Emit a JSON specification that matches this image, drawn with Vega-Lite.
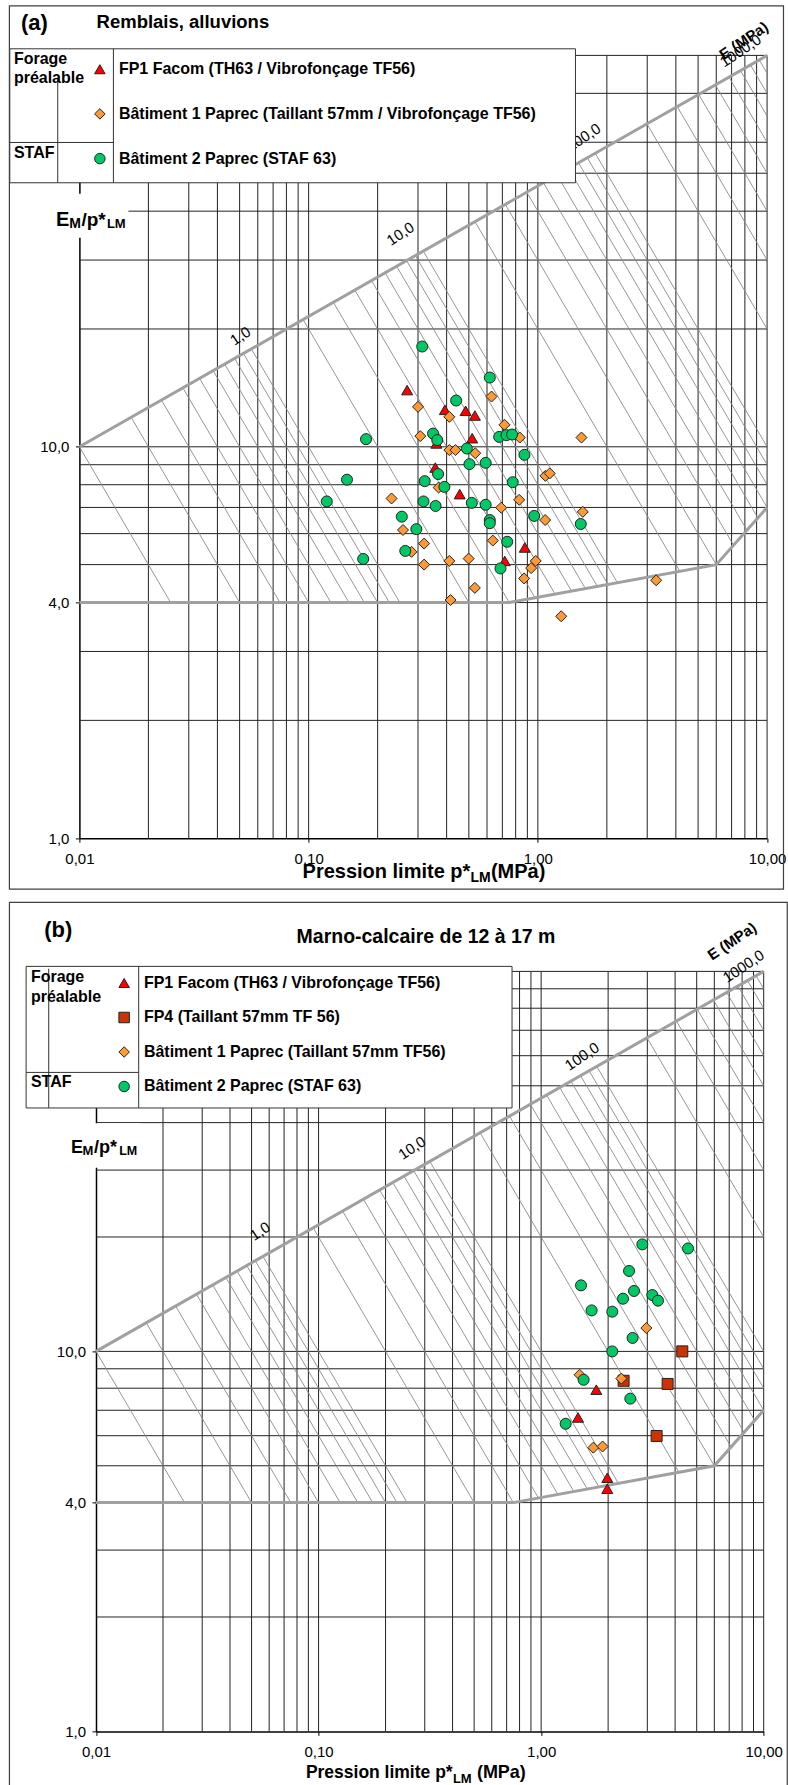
{
"$schema": "https://vega.github.io/schema/vega-lite/v6.json",
"background": "white",
"padding": {"left": 8.4, "top": 4.4, "right": 0, "bottom": 0},
"config": {"view": {"stroke": null}, "font": "Liberation Sans"},
"resolve": {"scale": {"color": "independent", "shape": "independent"}},
"datasets": {
"grilleX": [{"v":0.02},{"v":0.03},{"v":0.04},{"v":0.05},{"v":0.06},{"v":0.07},{"v":0.08},{"v":0.09},{"v":0.1},{"v":0.2},{"v":0.3},{"v":0.4},{"v":0.5},{"v":0.6},{"v":0.7},{"v":0.8},{"v":0.9},{"v":1},{"v":2},{"v":3},{"v":4},{"v":5},{"v":6},{"v":7},{"v":8},{"v":9},{"v":10}],
"grilleYa": [{"h":2},{"h":3},{"h":4},{"h":5},{"h":6},{"h":7},{"h":8},{"h":9},{"h":10},{"h":20},{"h":30},{"h":40},{"h":50},{"h":60},{"h":80},{"h":100}],
"grilleYb": [{"h":2},{"h":3},{"h":4},{"h":5},{"h":6},{"h":7},{"h":8},{"h":9},{"h":10},{"h":20},{"h":30},{"h":40},{"h":50},{"h":60},{"h":70},{"h":80},{"h":90},{"h":100}],
"hachures": [
{"E":0.1,"xa":0.01,"ya":10,"xb":0.025,"yb":4},
{"E":0.2,"xa":0.016818,"ya":11.892,"xb":0.05,"yb":4},
{"E":0.3,"xa":0.022795,"ya":13.161,"xb":0.075,"yb":4},
{"E":0.4,"xa":0.028284,"ya":14.142,"xb":0.1,"yb":4},
{"E":0.5,"xa":0.033437,"ya":14.953,"xb":0.125,"yb":4},
{"E":0.6,"xa":0.038343,"ya":15.649,"xb":0.15,"yb":4},
{"E":0.7,"xa":0.043035,"ya":16.266,"xb":0.175,"yb":4},
{"E":0.8,"xa":0.047568,"ya":16.818,"xb":0.2,"yb":4},
{"E":0.9,"xa":0.051962,"ya":17.321,"xb":0.225,"yb":4},
{"E":1,"xa":0.056234,"ya":17.783,"xb":0.25,"yb":4},
{"E":2,"xa":0.094574,"ya":21.147,"xb":0.5,"yb":4},
{"E":3,"xa":0.12819,"ya":23.403,"xb":0.75,"yb":4},
{"E":4,"xa":0.15905,"ya":25.149,"xb":0.9725,"yb":4.1131},
{"E":5,"xa":0.18803,"ya":26.591,"xb":1.1898,"yb":4.2024},
{"E":6,"xa":0.21561,"ya":27.828,"xb":1.4029,"yb":4.2769},
{"E":7,"xa":0.242,"ya":28.925,"xb":1.6123,"yb":4.3416},
{"E":8,"xa":0.26749,"ya":29.907,"xb":1.8184,"yb":4.3995},
{"E":9,"xa":0.29221,"ya":30.8,"xb":2.0228,"yb":4.4493},
{"E":10,"xa":0.31623,"ya":31.623,"xb":2.2253,"yb":4.4938},
{"E":20,"xa":0.53183,"ya":37.606,"xb":4.1604,"yb":4.8072},
{"E":30,"xa":0.72083,"ya":41.618,"xb":6,"yb":5},
{"E":40,"xa":0.89443,"ya":44.721,"xb":7.1376,"yb":5.6041},
{"E":50,"xa":1.0574,"ya":47.287,"xb":8.1635,"yb":6.1248},
{"E":60,"xa":1.2121,"ya":49.492,"xb":9.1116,"yb":6.585},
{"E":70,"xa":1.3608,"ya":51.438,"xb":10,"yb":7},
{"E":80,"xa":1.5041,"ya":53.183,"xb":10,"yb":8},
{"E":90,"xa":1.6433,"ya":54.772,"xb":10,"yb":9},
{"E":100,"xa":1.7783,"ya":56.234,"xb":10,"yb":10},
{"E":200,"xa":2.9907,"ya":66.874,"xb":10,"yb":20},
{"E":300,"xa":4.0536,"ya":74.008,"xb":10,"yb":30},
{"E":400,"xa":5.0297,"ya":79.527,"xb":10,"yb":40},
{"E":500,"xa":5.946,"ya":84.09,"xb":10,"yb":50},
{"E":600,"xa":6.8173,"ya":88.012,"xb":10,"yb":60},
{"E":700,"xa":7.6541,"ya":91.455,"xb":10,"yb":70},
{"E":800,"xa":8.4589,"ya":94.574,"xb":10,"yb":80},
{"E":900,"xa":9.2402,"ya":97.401,"xb":10,"yb":90}
],
"limites": [
{"seg":"haut","px":0.01,"py":10},{"seg":"haut","px":10,"py":100},
{"seg":"bas","px":0.01,"py":4},{"seg":"bas","px":0.75,"py":4},{"seg":"bas","px":6,"py":5},{"seg":"bas","px":10,"py":7}
],
"a_points": [
{"s":"FP1 Facom (TH63 / Vibrofonçage TF56)","pl":0.269,"ratio":13.96},
{"s":"FP1 Facom (TH63 / Vibrofonçage TF56)","pl":0.393,"ratio":12.43},
{"s":"FP1 Facom (TH63 / Vibrofonçage TF56)","pl":0.484,"ratio":12.36},
{"s":"FP1 Facom (TH63 / Vibrofonçage TF56)","pl":0.531,"ratio":12.02},
{"s":"FP1 Facom (TH63 / Vibrofonçage TF56)","pl":0.517,"ratio":10.52},
{"s":"FP1 Facom (TH63 / Vibrofonçage TF56)","pl":0.361,"ratio":10.2},
{"s":"FP1 Facom (TH63 / Vibrofonçage TF56)","pl":0.357,"ratio":8.85},
{"s":"FP1 Facom (TH63 / Vibrofonçage TF56)","pl":0.456,"ratio":7.57},
{"s":"FP1 Facom (TH63 / Vibrofonçage TF56)","pl":0.877,"ratio":5.53},
{"s":"FP1 Facom (TH63 / Vibrofonçage TF56)","pl":0.717,"ratio":5.11},
{"s":"Bâtiment 1 Paprec (Taillant 57mm / Vibrofonçage TF56)","pl":0.300,"ratio":12.65},
{"s":"Bâtiment 1 Paprec (Taillant 57mm / Vibrofonçage TF56)","pl":0.628,"ratio":13.44},
{"s":"Bâtiment 1 Paprec (Taillant 57mm / Vibrofonçage TF56)","pl":0.411,"ratio":11.93},
{"s":"Bâtiment 1 Paprec (Taillant 57mm / Vibrofonçage TF56)","pl":0.715,"ratio":11.38},
{"s":"Bâtiment 1 Paprec (Taillant 57mm / Vibrofonçage TF56)","pl":0.307,"ratio":10.65},
{"s":"Bâtiment 1 Paprec (Taillant 57mm / Vibrofonçage TF56)","pl":0.834,"ratio":10.56},
{"s":"Bâtiment 1 Paprec (Taillant 57mm / Vibrofonçage TF56)","pl":1.550,"ratio":10.56},
{"s":"Bâtiment 1 Paprec (Taillant 57mm / Vibrofonçage TF56)","pl":0.411,"ratio":9.81},
{"s":"Bâtiment 1 Paprec (Taillant 57mm / Vibrofonçage TF56)","pl":0.437,"ratio":9.81},
{"s":"Bâtiment 1 Paprec (Taillant 57mm / Vibrofonçage TF56)","pl":0.533,"ratio":9.63},
{"s":"Bâtiment 1 Paprec (Taillant 57mm / Vibrofonçage TF56)","pl":1.079,"ratio":8.43},
{"s":"Bâtiment 1 Paprec (Taillant 57mm / Vibrofonçage TF56)","pl":1.127,"ratio":8.55},
{"s":"Bâtiment 1 Paprec (Taillant 57mm / Vibrofonçage TF56)","pl":0.369,"ratio":7.87},
{"s":"Bâtiment 1 Paprec (Taillant 57mm / Vibrofonçage TF56)","pl":0.230,"ratio":7.38},
{"s":"Bâtiment 1 Paprec (Taillant 57mm / Vibrofonçage TF56)","pl":0.829,"ratio":7.32},
{"s":"Bâtiment 1 Paprec (Taillant 57mm / Vibrofonçage TF56)","pl":0.692,"ratio":6.99},
{"s":"Bâtiment 1 Paprec (Taillant 57mm / Vibrofonçage TF56)","pl":1.570,"ratio":6.82},
{"s":"Bâtiment 1 Paprec (Taillant 57mm / Vibrofonçage TF56)","pl":1.076,"ratio":6.50},
{"s":"Bâtiment 1 Paprec (Taillant 57mm / Vibrofonçage TF56)","pl":0.258,"ratio":6.13},
{"s":"Bâtiment 1 Paprec (Taillant 57mm / Vibrofonçage TF56)","pl":0.319,"ratio":5.66},
{"s":"Bâtiment 1 Paprec (Taillant 57mm / Vibrofonçage TF56)","pl":0.636,"ratio":5.76},
{"s":"Bâtiment 1 Paprec (Taillant 57mm / Vibrofonçage TF56)","pl":0.281,"ratio":5.39},
{"s":"Bâtiment 1 Paprec (Taillant 57mm / Vibrofonçage TF56)","pl":0.319,"ratio":5.00},
{"s":"Bâtiment 1 Paprec (Taillant 57mm / Vibrofonçage TF56)","pl":0.411,"ratio":5.11},
{"s":"Bâtiment 1 Paprec (Taillant 57mm / Vibrofonçage TF56)","pl":0.499,"ratio":5.18},
{"s":"Bâtiment 1 Paprec (Taillant 57mm / Vibrofonçage TF56)","pl":0.979,"ratio":5.11},
{"s":"Bâtiment 1 Paprec (Taillant 57mm / Vibrofonçage TF56)","pl":0.935,"ratio":4.90},
{"s":"Bâtiment 1 Paprec (Taillant 57mm / Vibrofonçage TF56)","pl":0.871,"ratio":4.61},
{"s":"Bâtiment 1 Paprec (Taillant 57mm / Vibrofonçage TF56)","pl":0.531,"ratio":4.36},
{"s":"Bâtiment 1 Paprec (Taillant 57mm / Vibrofonçage TF56)","pl":0.416,"ratio":4.06},
{"s":"Bâtiment 1 Paprec (Taillant 57mm / Vibrofonçage TF56)","pl":1.264,"ratio":3.69},
{"s":"Bâtiment 1 Paprec (Taillant 57mm / Vibrofonçage TF56)","pl":3.28,"ratio":4.56},
{"s":"Bâtiment 2 Paprec (STAF 63)","pl":0.313,"ratio":18.04},
{"s":"Bâtiment 2 Paprec (STAF 63)","pl":0.617,"ratio":15.03},
{"s":"Bâtiment 2 Paprec (STAF 63)","pl":0.440,"ratio":13.13},
{"s":"Bâtiment 2 Paprec (STAF 63)","pl":0.349,"ratio":10.81},
{"s":"Bâtiment 2 Paprec (STAF 63)","pl":0.364,"ratio":10.40},
{"s":"Bâtiment 2 Paprec (STAF 63)","pl":0.678,"ratio":10.6},
{"s":"Bâtiment 2 Paprec (STAF 63)","pl":0.730,"ratio":10.71},
{"s":"Bâtiment 2 Paprec (STAF 63)","pl":0.772,"ratio":10.75},
{"s":"Bâtiment 2 Paprec (STAF 63)","pl":0.490,"ratio":9.90},
{"s":"Bâtiment 2 Paprec (STAF 63)","pl":0.874,"ratio":9.54},
{"s":"Bâtiment 2 Paprec (STAF 63)","pl":0.503,"ratio":9.03},
{"s":"Bâtiment 2 Paprec (STAF 63)","pl":0.592,"ratio":9.10},
{"s":"Bâtiment 2 Paprec (STAF 63)","pl":0.367,"ratio":8.52},
{"s":"Bâtiment 2 Paprec (STAF 63)","pl":0.321,"ratio":8.17},
{"s":"Bâtiment 2 Paprec (STAF 63)","pl":0.391,"ratio":7.90},
{"s":"Bâtiment 2 Paprec (STAF 63)","pl":0.777,"ratio":8.12},
{"s":"Bâtiment 2 Paprec (STAF 63)","pl":0.317,"ratio":7.25},
{"s":"Bâtiment 2 Paprec (STAF 63)","pl":0.358,"ratio":7.06},
{"s":"Bâtiment 2 Paprec (STAF 63)","pl":0.515,"ratio":7.19},
{"s":"Bâtiment 2 Paprec (STAF 63)","pl":0.592,"ratio":7.11},
{"s":"Bâtiment 2 Paprec (STAF 63)","pl":0.964,"ratio":6.66},
{"s":"Bâtiment 2 Paprec (STAF 63)","pl":0.255,"ratio":6.63},
{"s":"Bâtiment 2 Paprec (STAF 63)","pl":0.617,"ratio":6.50},
{"s":"Bâtiment 2 Paprec (STAF 63)","pl":0.617,"ratio":6.38},
{"s":"Bâtiment 2 Paprec (STAF 63)","pl":0.295,"ratio":6.16},
{"s":"Bâtiment 2 Paprec (STAF 63)","pl":1.539,"ratio":6.35},
{"s":"Bâtiment 2 Paprec (STAF 63)","pl":0.735,"ratio":5.72},
{"s":"Bâtiment 2 Paprec (STAF 63)","pl":0.264,"ratio":5.42},
{"s":"Bâtiment 2 Paprec (STAF 63)","pl":0.687,"ratio":4.89},
{"s":"Bâtiment 2 Paprec (STAF 63)","pl":0.178,"ratio":10.46},
{"s":"Bâtiment 2 Paprec (STAF 63)","pl":0.147,"ratio":8.24},
{"s":"Bâtiment 2 Paprec (STAF 63)","pl":0.120,"ratio":7.25},
{"s":"Bâtiment 2 Paprec (STAF 63)","pl":0.173,"ratio":5.17}
],
"b_points": [
{"s":"FP1 Facom (TH63 / Vibrofonçage TF56)","pl":1.770,"ratio":7.93},
{"s":"FP1 Facom (TH63 / Vibrofonçage TF56)","pl":1.465,"ratio":6.70},
{"s":"FP1 Facom (TH63 / Vibrofonçage TF56)","pl":1.983,"ratio":4.65},
{"s":"FP1 Facom (TH63 / Vibrofonçage TF56)","pl":1.983,"ratio":4.35},
{"s":"FP4 (Taillant 57mm TF 56)","pl":4.308,"ratio":10.0},
{"s":"FP4 (Taillant 57mm TF 56)","pl":2.347,"ratio":8.37},
{"s":"FP4 (Taillant 57mm TF 56)","pl":3.701,"ratio":8.21},
{"s":"FP4 (Taillant 57mm TF 56)","pl":3.303,"ratio":5.99},
{"s":"Bâtiment 1 Paprec (Taillant 57mm TF56)","pl":2.970,"ratio":11.52},
{"s":"Bâtiment 1 Paprec (Taillant 57mm TF56)","pl":1.489,"ratio":8.68},
{"s":"Bâtiment 1 Paprec (Taillant 57mm TF56)","pl":2.293,"ratio":8.48},
{"s":"Bâtiment 1 Paprec (Taillant 57mm TF56)","pl":1.716,"ratio":5.58},
{"s":"Bâtiment 1 Paprec (Taillant 57mm TF56)","pl":1.889,"ratio":5.62},
{"s":"Bâtiment 2 Paprec (STAF 63)","pl":2.849,"ratio":19.12},
{"s":"Bâtiment 2 Paprec (STAF 63)","pl":4.571,"ratio":18.66},
{"s":"Bâtiment 2 Paprec (STAF 63)","pl":2.483,"ratio":16.28},
{"s":"Bâtiment 2 Paprec (STAF 63)","pl":1.511,"ratio":14.92},
{"s":"Bâtiment 2 Paprec (STAF 63)","pl":2.614,"ratio":14.42},
{"s":"Bâtiment 2 Paprec (STAF 63)","pl":2.333,"ratio":13.76},
{"s":"Bâtiment 2 Paprec (STAF 63)","pl":3.159,"ratio":14.07},
{"s":"Bâtiment 2 Paprec (STAF 63)","pl":3.350,"ratio":13.60},
{"s":"Bâtiment 2 Paprec (STAF 63)","pl":1.686,"ratio":12.82},
{"s":"Bâtiment 2 Paprec (STAF 63)","pl":2.088,"ratio":12.72},
{"s":"Bâtiment 2 Paprec (STAF 63)","pl":2.576,"ratio":10.85},
{"s":"Bâtiment 2 Paprec (STAF 63)","pl":2.088,"ratio":10.0},
{"s":"Bâtiment 2 Paprec (STAF 63)","pl":1.552,"ratio":8.42},
{"s":"Bâtiment 2 Paprec (STAF 63)","pl":2.516,"ratio":7.51},
{"s":"Bâtiment 2 Paprec (STAF 63)","pl":1.289,"ratio":6.45}
]
},
"concat": [
{
"width": 687.7, "height": 782.8,
"resolve": {"axis": {"x": "independent", "y": "independent"}},
"layer": [
{"data": {"values": [{"x0": 0.00495, "x1": 11.79, "y0": 0.7413, "y1": 133.8}]},
 "mark": {"type": "rect", "filled": false, "stroke": "#404040", "strokeWidth": 1.2},
 "encoding": {
  "x": {"field": "x0", "type": "quantitative", "scale": {"type": "log", "domain": [0.01, 10], "nice": false},
   "axis": {"orient": "bottom", "labels": false, "ticks": false, "domain": false, "grid": false, "zindex": 2, "title": "(MPa)", "titleX": 411, "titleY": 39.4, "titleAngle": 0, "titleAlign": "left", "titleBaseline": "alphabetic", "titleFont": "Liberation Sans", "titleFontSize": 20, "titleFontWeight": "bold", "titleColor": "#000"}},
  "x2": {"field": "x1"},
  "y": {"field": "y0", "type": "quantitative", "scale": {"type": "log", "domain": [1, 100], "nice": false},
   "axis": {"orient": "left", "labels": false, "ticks": false, "domain": false, "grid": false, "zindex": 2, "title": "(a)", "titleX": -59, "titleY": -26, "titleAngle": 0, "titleAlign": "left", "titleBaseline": "alphabetic", "titleFont": "Liberation Sans", "titleFontSize": 22, "titleFontWeight": "bold", "titleColor": "#000"}},
  "y2": {"field": "y1"}}},
{"data": {"name": "grilleX"},
 "mark": {"type": "rule", "color": "#222", "strokeWidth": 1},
 "encoding": {
  "x": {"field": "v", "type": "quantitative", "scale": {"type": "log", "domain": [0.01, 10], "nice": false},
   "axis": {"orient": "bottom", "values": [0.01, 0.1, 1, 10], "labelExpr": "replace(format(datum.value, '.2f'), '.', ',')", "labelFont": "Liberation Sans", "labelFontSize": 15, "labelColor": "#000", "labelFlush": false, "labelOverlap": false, "labelPadding": 9, "ticks": true, "tickSize": 4, "tickColor": "#000", "domain": true, "domainColor": "#000", "domainWidth": 1.5, "grid": false, "zindex": 0, "title": "Pression limite p*", "titleX": 222.7, "titleY": 39.4, "titleAngle": 0, "titleAlign": "left", "titleBaseline": "alphabetic", "titleFont": "Liberation Sans", "titleFontSize": 20, "titleFontWeight": "bold", "titleColor": "#000"}}}},
{"data": {"name": "grilleYa"},
 "mark": {"type": "rule", "color": "#222", "strokeWidth": 1},
 "encoding": {
  "y": {"field": "h", "type": "quantitative", "scale": {"type": "log", "domain": [1, 100], "nice": false},
   "axis": {"orient": "left", "values": [1, 4, 10], "labelExpr": "replace(format(datum.value, '.1f'), '.', ',')", "labelFont": "Liberation Sans", "labelFontSize": 15, "labelColor": "#000", "labelFlush": false, "labelOverlap": false, "labelPadding": 6.5, "ticks": true, "tickSize": 4, "tickColor": "#000", "domain": true, "domainColor": "#000", "domainWidth": 1.5, "grid": false, "zindex": 0, "title": null}}}},
{"data": {"values": [{"x0": 0.00747, "x1": 0.01636, "y0": 34.2, "y1": 44.3}]},
 "mark": {"type": "rect", "fill": "white", "strokeWidth": 0},
 "encoding": {
  "x": {"field": "x0", "type": "quantitative", "scale": {"type": "log", "domain": [0.01, 10], "nice": false},
   "axis": {"orient": "bottom", "labels": false, "ticks": false, "domain": false, "grid": false, "zindex": 2, "title": "LM", "titleX": 390.5, "titleY": 43.5, "titleAngle": 0, "titleAlign": "left", "titleBaseline": "alphabetic", "titleFont": "Liberation Sans", "titleFontSize": 14, "titleFontWeight": "bold", "titleColor": "#000"}},
  "x2": {"field": "x1"},
  "y": {"field": "y0", "type": "quantitative", "scale": {"type": "log", "domain": [1, 100], "nice": false},
   "axis": {"orient": "left", "labels": false, "ticks": false, "domain": false, "grid": false, "zindex": 2, "title": "Remblais, alluvions", "titleX": 16.7, "titleY": -27.8, "titleAngle": 0, "titleAlign": "left", "titleBaseline": "alphabetic", "titleFont": "Liberation Sans", "titleFontSize": 18.5, "titleFontWeight": "bold", "titleColor": "#000"}},
  "y2": {"field": "y1"}}},
{"data": {"name": "hachures"},
 "mark": {"type": "rule", "color": "#8a8a8a", "strokeWidth": 0.9},
 "encoding": {
  "x": {"field": "xa", "type": "quantitative", "scale": {"type": "log", "domain": [0.01, 10], "nice": false},
   "axis": {"orient": "bottom", "labels": false, "ticks": false, "domain": false, "grid": false, "zindex": 2, "title": "STAF", "titleX": -66, "titleY": -693.3, "titleAngle": 0, "titleAlign": "left", "titleBaseline": "top", "titleFont": "Liberation Sans", "titleFontSize": 16, "titleFontWeight": "bold", "titleColor": "#000"}},
  "x2": {"field": "xb"},
  "y": {"field": "ya", "type": "quantitative", "scale": {"type": "log", "domain": [1, 100], "nice": false},
   "axis": {"orient": "left", "labels": false, "ticks": false, "domain": false, "grid": false, "zindex": 2, "title": "E", "titleX": -24, "titleY": 170.5, "titleAngle": 0, "titleAlign": "left", "titleBaseline": "alphabetic", "titleFont": "Liberation Sans", "titleFontSize": 20, "titleFontWeight": "bold", "titleColor": "#000"}},
  "y2": {"field": "yb"}}},
{"data": {"name": "limites"},
 "mark": {"type": "line", "color": "#a0a0a0", "strokeWidth": 3},
 "encoding": {
  "x": {"field": "px", "type": "quantitative", "scale": {"type": "log", "domain": [0.01, 10], "nice": false}, "axis": null},
  "y": {"field": "py", "type": "quantitative", "scale": {"type": "log", "domain": [1, 100], "nice": false},
   "axis": {"orient": "left", "labels": false, "ticks": false, "domain": false, "grid": false, "zindex": 2, "title": "M", "titleX": -10.7, "titleY": 172.5, "titleAngle": 0, "titleAlign": "left", "titleBaseline": "alphabetic", "titleFont": "Liberation Sans", "titleFontSize": 14, "titleFontWeight": "bold", "titleColor": "#000"}},
  "detail": {"field": "seg", "type": "nominal"}}},
{"data": {"values": [{"t": "1,0", "px": 0.0504, "py": 19.2}, {"t": "10,0", "px": 0.2514, "py": 35.0}, {"t": "100,0", "px": 1.581, "py": 61.7}, {"t": "1000,0", "px": 7.66, "py": 102.7}]},
 "mark": {"type": "text", "angle": -34, "font": "Liberation Sans", "fontSize": 15, "align": "center", "baseline": "middle", "color": "#000"},
 "encoding": {
  "x": {"field": "px", "type": "quantitative", "scale": {"type": "log", "domain": [0.01, 10], "nice": false}, "axis": null},
  "y": {"field": "py", "type": "quantitative", "scale": {"type": "log", "domain": [1, 100], "nice": false},
   "axis": {"orient": "left", "labels": false, "ticks": false, "domain": false, "grid": false, "zindex": 2, "title": "/p*", "titleX": 1.5, "titleY": 170.5, "titleAngle": 0, "titleAlign": "left", "titleBaseline": "alphabetic", "titleFont": "Liberation Sans", "titleFontSize": 19, "titleFontWeight": "bold", "titleColor": "#000"}},
  "text": {"field": "t", "type": "nominal"}}},
{"data": {"values": [{"t": "E (MPa)", "px": 7.91, "py": 109}]},
 "mark": {"type": "text", "angle": -34, "font": "Liberation Sans", "fontSize": 15, "fontWeight": "bold", "align": "center", "baseline": "middle", "color": "#000"},
 "encoding": {
  "x": {"field": "px", "type": "quantitative", "scale": {"type": "log", "domain": [0.01, 10], "nice": false}, "axis": null},
  "y": {"field": "py", "type": "quantitative", "scale": {"type": "log", "domain": [1, 100], "nice": false}, "axis": null},
  "text": {"field": "t", "type": "nominal"}}},
{"data": {"values": [{"x0": 0.00497, "x1": 1.4589, "y0": 47.27, "y1": 103.96}]},
 "mark": {"type": "rect", "fill": "white", "stroke": "#333", "strokeWidth": 1},
 "encoding": {
  "x": {"field": "x0", "type": "quantitative", "scale": {"type": "log", "domain": [0.01, 10], "nice": false}, "axis": null},
  "x2": {"field": "x1"},
  "y": {"field": "y0", "type": "quantitative", "scale": {"type": "log", "domain": [1, 100], "nice": false},
   "axis": {"orient": "left", "labels": false, "ticks": false, "domain": false, "grid": false, "zindex": 2, "title": ["Forage", "préalable"], "titleX": -66, "titleY": -4.5, "titleLineHeight": 19, "titleAngle": 0, "titleAlign": "left", "titleBaseline": "top", "titleFont": "Liberation Sans", "titleFontSize": 16, "titleFontWeight": "bold", "titleColor": "#000"}},
  "y2": {"field": "y1"}}},
{"data": {"values": [{"xa": 0.014072, "ya": 47.27, "xb": 0.014072, "yb": 103.96}, {"xa": 0.00497, "ya": 59.91, "xb": 0.014072, "yb": 59.91}, {"xa": 0.008044, "ya": 47.27, "xb": 0.008044, "yb": 87.67}]},
 "mark": {"type": "rule", "color": "#333", "strokeWidth": 1},
 "encoding": {
  "x": {"field": "xa", "type": "quantitative", "scale": {"type": "log", "domain": [0.01, 10], "nice": false}, "axis": null},
  "x2": {"field": "xb"},
  "y": {"field": "ya", "type": "quantitative", "scale": {"type": "log", "domain": [1, 100], "nice": false}, "axis": null},
  "y2": {"field": "yb"}}},
{"data": {"name": "a_points"},
 "mark": {"type": "point", "filled": true, "opacity": 1, "stroke": "#222", "strokeWidth": 1, "size": 121},
 "encoding": {
  "x": {"field": "pl", "type": "quantitative", "scale": {"type": "log", "domain": [0.01, 10], "nice": false}, "axis": null},
  "y": {"field": "ratio", "type": "quantitative", "scale": {"type": "log", "domain": [1, 100], "nice": false},
   "axis": {"orient": "left", "labels": false, "ticks": false, "domain": false, "grid": false, "zindex": 2, "title": "LM", "titleX": 27, "titleY": 172.5, "titleAngle": 0, "titleAlign": "left", "titleBaseline": "alphabetic", "titleFont": "Liberation Sans", "titleFontSize": 13, "titleFontWeight": "bold", "titleColor": "#000"}},
  "color": {"field": "s", "type": "nominal",
   "scale": {"domain": ["FP1 Facom (TH63 / Vibrofonçage TF56)", "Bâtiment 1 Paprec (Taillant 57mm / Vibrofonçage TF56)", "Bâtiment 2 Paprec (STAF 63)"], "range": ["#FF0000", "#FF9933", "#00C864"]},
   "legend": {"title": null, "orient": "none", "legendX": 12.45, "legendY": 3.8, "direction": "vertical", "padding": 0, "labelFont": "Liberation Sans", "labelFontSize": 16, "labelFontWeight": "bold", "labelColor": "#000", "labelLimit": 1000, "labelOffset": 11.05, "symbolOffset": 0, "symbolSize": 110, "symbolStrokeColor": "#222", "symbolStrokeWidth": 1, "clipHeight": 20, "rowPadding": 24.7, "zindex": 1}},
  "shape": {"field": "s", "type": "nominal",
   "scale": {"domain": ["FP1 Facom (TH63 / Vibrofonçage TF56)", "Bâtiment 1 Paprec (Taillant 57mm / Vibrofonçage TF56)", "Bâtiment 2 Paprec (STAF 63)"], "range": ["triangle-up", "diamond", "circle"]},
   "legend": {"title": null, "orient": "none", "legendX": 12.45, "legendY": 3.8, "direction": "vertical", "padding": 0, "labelFont": "Liberation Sans", "labelFontSize": 16, "labelFontWeight": "bold", "labelColor": "#000", "labelLimit": 1000, "labelOffset": 11.05, "symbolOffset": 0, "symbolSize": 110, "symbolStrokeColor": "#222", "symbolStrokeWidth": 1, "clipHeight": 20, "rowPadding": 24.7, "zindex": 1}}}}
]
},
{
"width": 684.3, "height": 760,
"resolve": {"axis": {"x": "independent", "y": "independent"}},
"layer": [
{"data": {"values": [{"x0": 0.004084, "x1": 12.76, "y0": 0.6815, "y1": 151.9}]},
 "mark": {"type": "rect", "filled": false, "stroke": "#404040", "strokeWidth": 1.2},
 "encoding": {
  "x": {"field": "x0", "type": "quantitative", "scale": {"type": "log", "domain": [0.01, 10], "nice": false, "range": [16.6, 684.3]},
   "axis": {"orient": "bottom", "labels": false, "ticks": false, "domain": false, "grid": false, "zindex": 2, "title": "(MPa)", "titleX": 397, "titleY": 46.5, "titleAngle": 0, "titleAlign": "left", "titleBaseline": "alphabetic", "titleFont": "Liberation Sans", "titleFontSize": 18, "titleFontWeight": "bold", "titleColor": "#000"}},
  "x2": {"field": "x1"},
  "y": {"field": "y0", "type": "quantitative", "scale": {"type": "log", "domain": [1, 100], "nice": false},
   "axis": {"orient": "left", "labels": false, "ticks": false, "domain": false, "grid": false, "zindex": 2, "title": "(b)", "titleX": -35.7, "titleY": -34.5, "titleAngle": 0, "titleAlign": "left", "titleBaseline": "alphabetic", "titleFont": "Liberation Sans", "titleFontSize": 22, "titleFontWeight": "bold", "titleColor": "#000"}},
  "y2": {"field": "y1"}}},
{"data": {"name": "grilleX"},
 "mark": {"type": "rule", "color": "#222", "strokeWidth": 1},
 "encoding": {
  "x": {"field": "v", "type": "quantitative", "scale": {"type": "log", "domain": [0.01, 10], "nice": false, "range": [16.6, 684.3]},
   "axis": {"orient": "bottom", "values": [0.01, 0.1, 1, 10], "labelExpr": "replace(format(datum.value, '.2f'), '.', ',')", "labelFont": "Liberation Sans", "labelFontSize": 15, "labelColor": "#000", "labelFlush": false, "labelOverlap": false, "labelPadding": 9, "ticks": true, "tickSize": 4, "tickColor": "#000", "domain": true, "domainColor": "#000", "domainWidth": 1.5, "grid": false, "zindex": 0, "title": "Pression limite p*", "titleX": 226, "titleY": 46.5, "titleAngle": 0, "titleAlign": "left", "titleBaseline": "alphabetic", "titleFont": "Liberation Sans", "titleFontSize": 17.5, "titleFontWeight": "bold", "titleColor": "#000"}}}},
{"data": {"name": "grilleYb"},
 "mark": {"type": "rule", "color": "#222", "strokeWidth": 1},
 "encoding": {
  "x": {"datum": 0.01, "type": "quantitative", "scale": {"type": "log", "domain": [0.01, 10], "nice": false, "range": [16.6, 684.3]}, "axis": null},
  "x2": {"datum": 10},
  "y": {"field": "h", "type": "quantitative", "scale": {"type": "log", "domain": [1, 100], "nice": false},
   "axis": {"orient": "left", "offset": -16.6, "values": [1, 4, 10], "labelExpr": "replace(format(datum.value, '.1f'), '.', ',')", "labelFont": "Liberation Sans", "labelFontSize": 15, "labelColor": "#000", "labelFlush": false, "labelOverlap": false, "labelPadding": 6.5, "ticks": true, "tickSize": 4, "tickColor": "#000", "domain": true, "domainColor": "#000", "domainWidth": 1.5, "grid": false, "zindex": 0, "title": null}}}},
{"data": {"values": [{"x0": 0.006918, "x1": 0.015826, "y0": 30.44, "y1": 39.86}]},
 "mark": {"type": "rect", "fill": "white", "strokeWidth": 0},
 "encoding": {
  "x": {"field": "x0", "type": "quantitative", "scale": {"type": "log", "domain": [0.01, 10], "nice": false, "range": [16.6, 684.3]},
   "axis": {"orient": "bottom", "labels": false, "ticks": false, "domain": false, "grid": false, "zindex": 2, "title": "LM", "titleX": 373, "titleY": 51, "titleAngle": 0, "titleAlign": "left", "titleBaseline": "alphabetic", "titleFont": "Liberation Sans", "titleFontSize": 13, "titleFontWeight": "bold", "titleColor": "#000"}},
  "x2": {"field": "x1"},
  "y": {"field": "y0", "type": "quantitative", "scale": {"type": "log", "domain": [1, 100], "nice": false},
   "axis": {"orient": "left", "labels": false, "ticks": false, "domain": false, "grid": false, "zindex": 2, "title": "Marno-calcaire de 12 à 17 m", "titleX": 216.7, "titleY": -28.4, "titleAngle": 0, "titleAlign": "left", "titleBaseline": "alphabetic", "titleFont": "Liberation Sans", "titleFontSize": 19.5, "titleFontWeight": "bold", "titleColor": "#000"}},
  "y2": {"field": "y1"}}},
{"data": {"name": "hachures"},
 "mark": {"type": "rule", "color": "#8a8a8a", "strokeWidth": 0.9},
 "encoding": {
  "x": {"field": "xa", "type": "quantitative", "scale": {"type": "log", "domain": [0.01, 10], "nice": false, "range": [16.6, 684.3]},
   "axis": {"orient": "bottom", "labels": false, "ticks": false, "domain": false, "grid": false, "zindex": 2, "title": "STAF", "titleX": -49, "titleY": -657.7, "titleAngle": 0, "titleAlign": "left", "titleBaseline": "top", "titleFont": "Liberation Sans", "titleFontSize": 16, "titleFontWeight": "bold", "titleColor": "#000"}},
  "x2": {"field": "xb"},
  "y": {"field": "ya", "type": "quantitative", "scale": {"type": "log", "domain": [1, 100], "nice": false},
   "axis": {"orient": "left", "labels": false, "ticks": false, "domain": false, "grid": false, "zindex": 2, "title": "E", "titleX": -9, "titleY": 181.6, "titleAngle": 0, "titleAlign": "left", "titleBaseline": "alphabetic", "titleFont": "Liberation Sans", "titleFontSize": 18, "titleFontWeight": "bold", "titleColor": "#000"}},
  "y2": {"field": "yb"}}},
{"data": {"name": "limites"},
 "mark": {"type": "line", "color": "#a0a0a0", "strokeWidth": 3},
 "encoding": {
  "x": {"field": "px", "type": "quantitative", "scale": {"type": "log", "domain": [0.01, 10], "nice": false, "range": [16.6, 684.3]}, "axis": null},
  "y": {"field": "py", "type": "quantitative", "scale": {"type": "log", "domain": [1, 100], "nice": false},
   "axis": {"orient": "left", "labels": false, "ticks": false, "domain": false, "grid": false, "zindex": 2, "title": "M", "titleX": 2.7, "titleY": 183.5, "titleAngle": 0, "titleAlign": "left", "titleBaseline": "alphabetic", "titleFont": "Liberation Sans", "titleFontSize": 13, "titleFontWeight": "bold", "titleColor": "#000"}},
  "detail": {"field": "seg", "type": "nominal"}}},
{"data": {"values": [{"t": "1,0", "px": 0.0546, "py": 20.7}, {"t": "10,0", "px": 0.263, "py": 34.3}, {"t": "100,0", "px": 1.527, "py": 59.7}, {"t": "1000,0", "px": 8.12, "py": 103.1}]},
 "mark": {"type": "text", "angle": -34, "font": "Liberation Sans", "fontSize": 15, "align": "center", "baseline": "middle", "color": "#000"},
 "encoding": {
  "x": {"field": "px", "type": "quantitative", "scale": {"type": "log", "domain": [0.01, 10], "nice": false, "range": [16.6, 684.3]}, "axis": null},
  "y": {"field": "py", "type": "quantitative", "scale": {"type": "log", "domain": [1, 100], "nice": false},
   "axis": {"orient": "left", "labels": false, "ticks": false, "domain": false, "grid": false, "zindex": 2, "title": "/p*", "titleX": 14.1, "titleY": 181.6, "titleAngle": 0, "titleAlign": "left", "titleBaseline": "alphabetic", "titleFont": "Liberation Sans", "titleFontSize": 18, "titleFontWeight": "bold", "titleColor": "#000"}},
  "text": {"field": "t", "type": "nominal"}}},
{"data": {"values": [{"t": "E (MPa)", "px": 7.21, "py": 120}]},
 "mark": {"type": "text", "angle": -34, "font": "Liberation Sans", "fontSize": 15, "fontWeight": "bold", "align": "center", "baseline": "middle", "color": "#000"},
 "encoding": {
  "x": {"field": "px", "type": "quantitative", "scale": {"type": "log", "domain": [0.01, 10], "nice": false, "range": [16.6, 684.3]}, "axis": null},
  "y": {"field": "py", "type": "quantitative", "scale": {"type": "log", "domain": [1, 100], "nice": false}, "axis": null},
  "text": {"field": "t", "type": "nominal"}}},
{"data": {"values": [{"x0": 0.004853, "x1": 0.7401, "y0": 43.71, "y1": 103.08}]},
 "mark": {"type": "rect", "fill": "white", "stroke": "#333", "strokeWidth": 1},
 "encoding": {
  "x": {"field": "x0", "type": "quantitative", "scale": {"type": "log", "domain": [0.01, 10], "nice": false, "range": [16.6, 684.3]}, "axis": null},
  "x2": {"field": "x1"},
  "y": {"field": "y0", "type": "quantitative", "scale": {"type": "log", "domain": [1, 100], "nice": false},
   "axis": {"orient": "left", "labels": false, "ticks": false, "domain": false, "grid": false, "zindex": 2, "title": ["Forage", "préalable"], "titleX": -49, "titleY": -2.7, "titleLineHeight": 20, "titleAngle": 0, "titleAlign": "left", "titleBaseline": "top", "titleFont": "Liberation Sans", "titleFontSize": 16, "titleFontWeight": "bold", "titleColor": "#000"}},
  "y2": {"field": "y1"}}},
{"data": {"values": [{"xa": 0.015553, "ya": 43.71, "xb": 0.015553, "yb": 103.08}, {"xa": 0.004853, "ya": 54.22, "xb": 0.015553, "yb": 54.22}, {"xa": 0.006131, "ya": 43.71, "xb": 0.006131, "yb": 101.65}]},
 "mark": {"type": "rule", "color": "#333", "strokeWidth": 1},
 "encoding": {
  "x": {"field": "xa", "type": "quantitative", "scale": {"type": "log", "domain": [0.01, 10], "nice": false, "range": [16.6, 684.3]}, "axis": null},
  "x2": {"field": "xb"},
  "y": {"field": "ya", "type": "quantitative", "scale": {"type": "log", "domain": [1, 100], "nice": false}, "axis": null},
  "y2": {"field": "yb"}}},
{"data": {"name": "b_points"},
 "mark": {"type": "point", "filled": true, "opacity": 1, "stroke": "#222", "strokeWidth": 1, "size": 121},
 "encoding": {
  "x": {"field": "pl", "type": "quantitative", "scale": {"type": "log", "domain": [0.01, 10], "nice": false, "range": [16.6, 684.3]}, "axis": null},
  "y": {"field": "ratio", "type": "quantitative", "scale": {"type": "log", "domain": [1, 100], "nice": false},
   "axis": {"orient": "left", "labels": false, "ticks": false, "domain": false, "grid": false, "zindex": 2, "title": "LM", "titleX": 39.3, "titleY": 183.5, "titleAngle": 0, "titleAlign": "left", "titleBaseline": "alphabetic", "titleFont": "Liberation Sans", "titleFontSize": 12.5, "titleFontWeight": "bold", "titleColor": "#000"}},
  "color": {"field": "s", "type": "nominal",
   "scale": {"domain": ["FP1 Facom (TH63 / Vibrofonçage TF56)", "FP4 (Taillant 57mm TF 56)", "Bâtiment 1 Paprec (Taillant 57mm TF56)", "Bâtiment 2 Paprec (STAF 63)"], "range": ["#FF0000", "#CC3300", "#FF9933", "#00C864"]},
   "legend": {"title": null, "orient": "none", "legendX": 36.75, "legendY": 1.6, "direction": "vertical", "padding": 0, "labelFont": "Liberation Sans", "labelFontSize": 16, "labelFontWeight": "bold", "labelColor": "#000", "labelLimit": 1000, "labelOffset": 11.75, "symbolOffset": 0, "symbolSize": 110, "symbolStrokeColor": "#222", "symbolStrokeWidth": 1, "clipHeight": 20, "rowPadding": 14.5, "zindex": 1}},
  "shape": {"field": "s", "type": "nominal",
   "scale": {"domain": ["FP1 Facom (TH63 / Vibrofonçage TF56)", "FP4 (Taillant 57mm TF 56)", "Bâtiment 1 Paprec (Taillant 57mm TF56)", "Bâtiment 2 Paprec (STAF 63)"], "range": ["triangle-up", "square", "diamond", "circle"]},
   "legend": {"title": null, "orient": "none", "legendX": 36.75, "legendY": 1.6, "direction": "vertical", "padding": 0, "labelFont": "Liberation Sans", "labelFontSize": 16, "labelFontWeight": "bold", "labelColor": "#000", "labelLimit": 1000, "labelOffset": 11.75, "symbolOffset": 0, "symbolSize": 110, "symbolStrokeColor": "#222", "symbolStrokeWidth": 1, "clipHeight": 20, "rowPadding": 14.5, "zindex": 1}}}}
]
}
],
"columns": 1,
"align": "none",
"bounds": "full",
"spacing": 11
}
